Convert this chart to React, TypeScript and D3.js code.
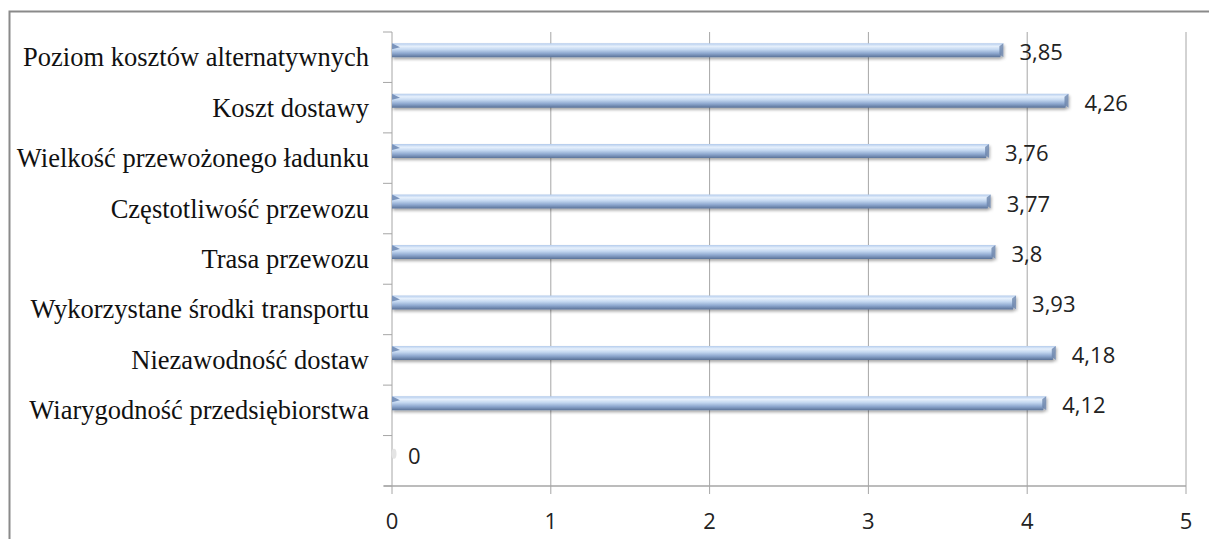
import React from "react";
import * as d3 from "d3";

const categories = [
  "Poziom kosztów alternatywnych",
  "Koszt dostawy",
  "Wielkość przewożonego ładunku",
  "Częstotliwość przewozu",
  "Trasa przewozu",
  "Wykorzystane środki transportu",
  "Niezawodność dostaw",
  "Wiarygodność przedsiębiorstwa",
  "",
];
const values = [3.85, 4.26, 3.76, 3.77, 3.8, 3.93, 4.18, 4.12, 0];
const valueLabels = ["3,85", "4,26", "3,76", "3,77", "3,8", "3,93", "4,18", "4,12", "0"];
const xTicks = [0, 1, 2, 3, 4, 5];

const W = 1209;
const H = 539;
const plot = { left: 392, right: 1186, top: 32, bottom: 486 };

export default function App() {
  const x = d3.scaleLinear().domain([0, 5]).range([plot.left, plot.right]);
  const y = d3
    .scaleBand<string>()
    .domain(categories.map((c, i) => String(i)))
    .range([plot.top, plot.bottom]);
  const bw = y.bandwidth();
  const barH = 14;
  const gridColor = "#a6a6a6";
  const sans = "'Open Sans', 'Liberation Sans', sans-serif";

  return (
    <svg
      width={W}
      height={H}
      style={{ position: "absolute", left: 0, top: 0, background: "#fff" }}
    >
      <defs>
        <linearGradient id="barGrad" x1="0" y1="0" x2="0" y2="1">
          <stop offset="0" stopColor="#b3cbec" />
          <stop offset="0.22" stopColor="#e6f0fc" />
          <stop offset="0.45" stopColor="#c3d7f0" />
          <stop offset="0.72" stopColor="#8ea8cf" />
          <stop offset="1" stopColor="#5a7298" />
        </linearGradient>
        <filter id="shadow" x="-5%" y="-50%" width="110%" height="200%">
          <feGaussianBlur in="SourceAlpha" stdDeviation="1.5" />
          <feOffset dx="1" dy="2" result="ob" />
          <feComponentTransfer>
            <feFuncA type="linear" slope="0.35" />
          </feComponentTransfer>
          <feMerge>
            <feMergeNode />
            <feMergeNode in="SourceGraphic" />
          </feMerge>
        </filter>
      </defs>
      <rect x={9.5} y={11.5} width={W + 10} height={H + 10} fill="#fff" stroke="#8a8a8a" strokeWidth={2} />

      {xTicks.map((t) => (
        <g key={t}>
          <line x1={x(t)} x2={x(t)} y1={plot.top} y2={plot.bottom + 8} stroke={gridColor} strokeWidth={1} />
          <text x={x(t)} y={529} textAnchor="middle" fontFamily={sans} fontSize={22} fill="#222">
            {t}
          </text>
        </g>
      ))}
      <line x1={plot.left - 8} x2={plot.right} y1={plot.bottom} y2={plot.bottom} stroke={gridColor} strokeWidth={1.5} />
      {d3.range(categories.length + 1).map((i) => {
        const yy = plot.top + i * bw;
        return <line key={i} x1={plot.left - 9} x2={plot.left} y1={yy} y2={yy} stroke={gridColor} strokeWidth={1} />;
      })}

      {categories.map((c, i) => {
        const bc = (y(String(i)) as number) + bw / 2;
        const cy = bc - 7;
        const x1 = x(values[i]);
        return (
          <g key={i}>
            {values[i] > 0 ? (
              <g filter="url(#shadow)">
                <path
                  d={`M${plot.left},${cy - barH / 2} L${x1},${cy - barH / 2} L${x1 - 3},${cy + barH / 2} L${plot.left},${cy + barH / 2} Z`}
                  fill="url(#barGrad)"
                />
                <path
                  d={`M${x1},${cy - barH / 2} L${x1},${cy + barH / 2} L${x1 - 4},${cy + barH / 2 - 3} L${x1 - 4},${cy - barH / 2 + 3} Z`}
                  fill="#6d86ad"
                  opacity={0.8}
                />
                <path
                  d={`M${plot.left},${cy - barH / 2} L${plot.left + 8},${cy - barH / 2 + 4} L${plot.left},${cy - barH / 2 + 6} Z`}
                  fill="#7a94bc"
                />
              </g>
            ) : (
              <ellipse cx={plot.left + 2} cy={cy} rx={2.5} ry={5} fill="#e4e4e4" />
            )}
            <text x={x1 + 16} y={cy + 10} fontFamily={sans} fontSize={22} fill="#222">
              {valueLabels[i]}
            </text>
            <text
              x={369}
              y={bc + 9}
              textAnchor="end"
              fontFamily="'Liberation Serif', 'Times New Roman', serif"
              fontSize={26.5}
              fill="#111"
            >
              {c}
            </text>
          </g>
        );
      })}
    </svg>
  );
}
